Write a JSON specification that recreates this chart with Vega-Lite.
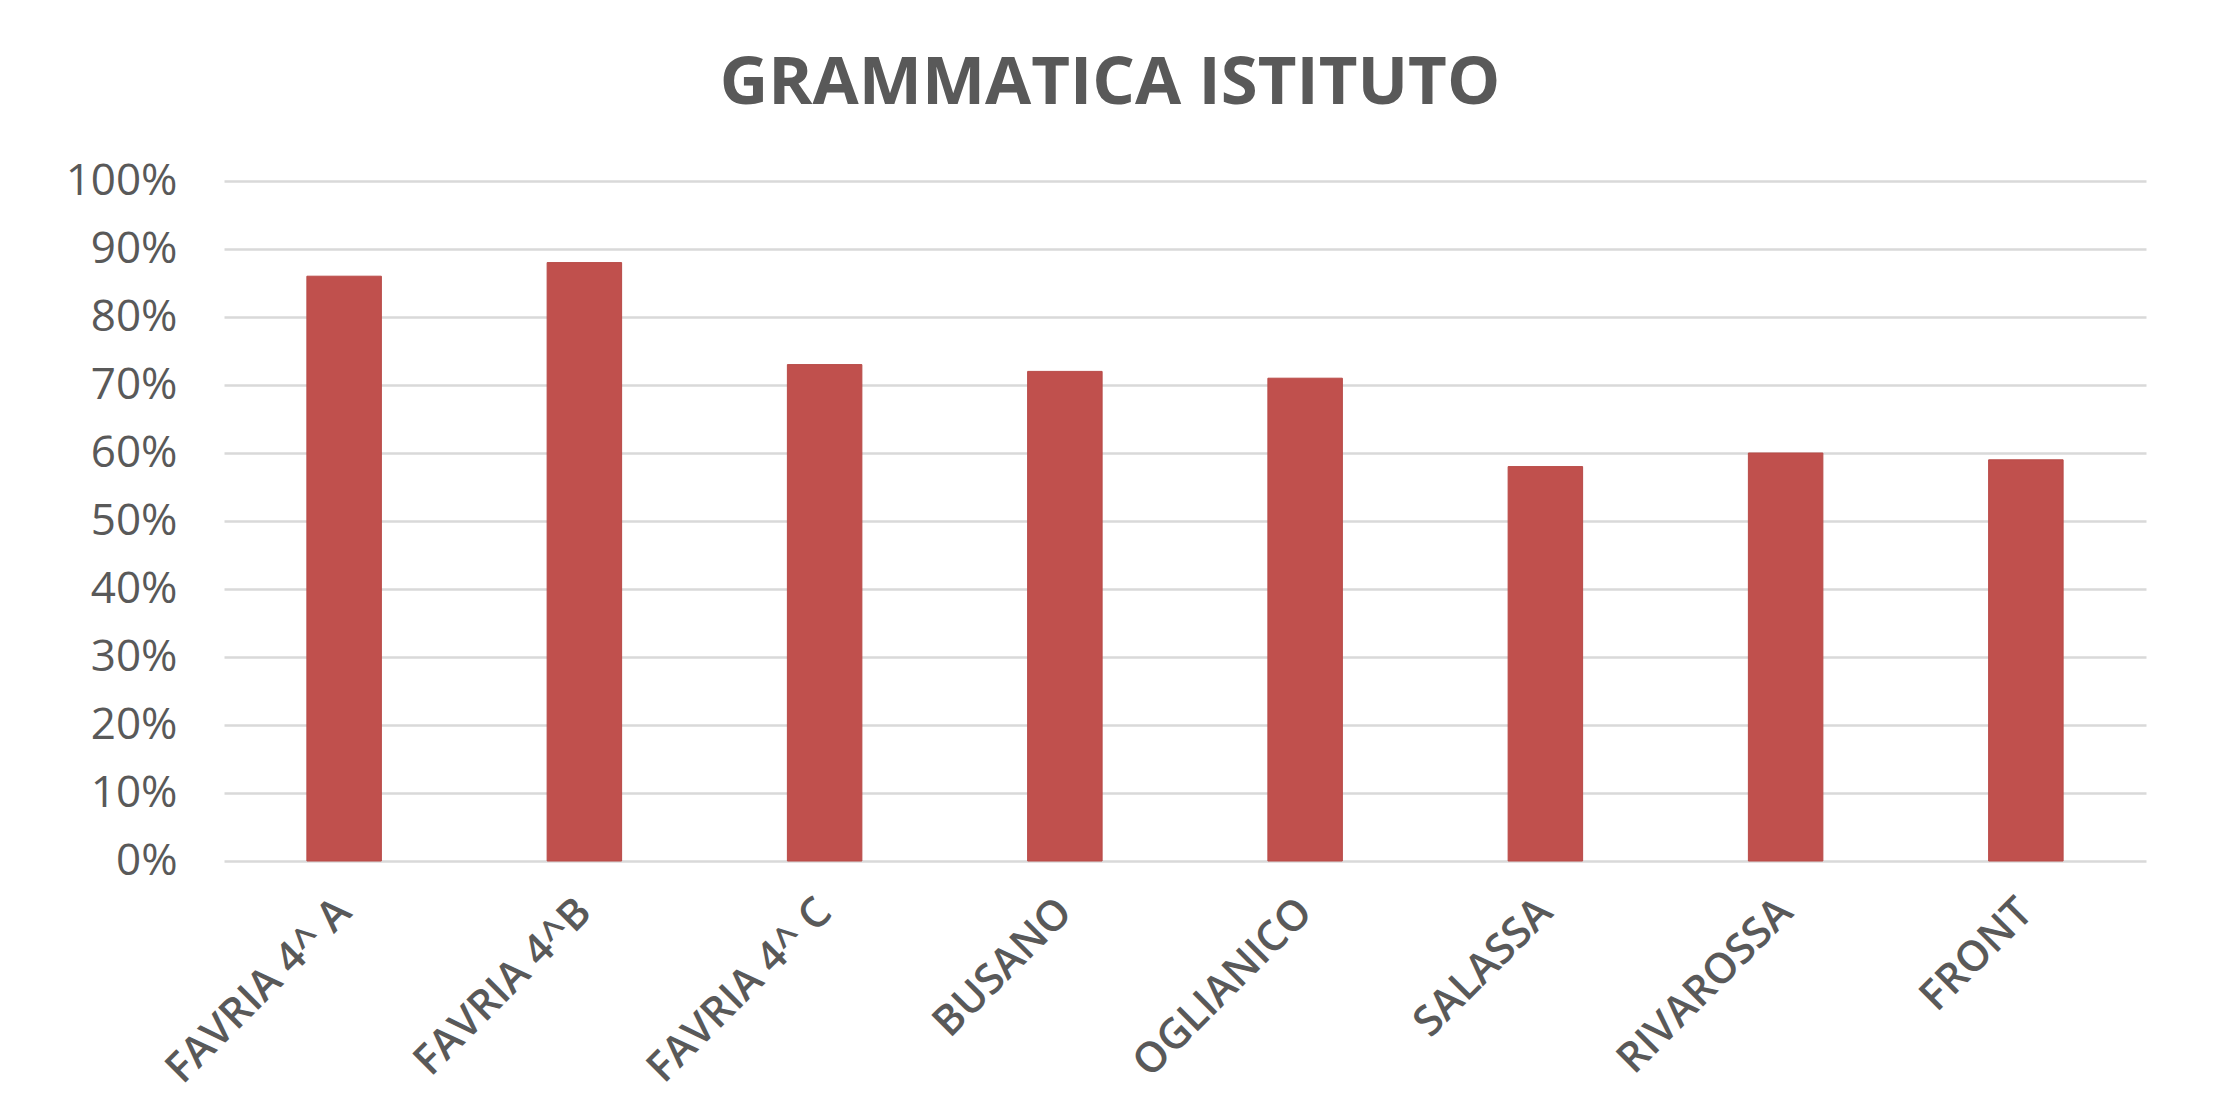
{
  "$schema": "https://vega.github.io/schema/vega-lite/v6.json",
  "autosize": {"type": "none"},
  "padding": {"left": 224, "top": 181, "right": 75, "bottom": 244},
  "width": 1922,
  "height": 680,
  "background": "#ffffff",
  "title": {
    "text": "GRAMMATICA ISTITUTO",
    "font": "Open Sans",
    "fontSize": 67,
    "fontWeight": "bold",
    "color": "#595959",
    "anchor": "middle",
    "baseline": "alphabetic",
    "offset": -12,
    "dx": -75
  },
  "data": {
    "values": [
      {"scuola": "FAVRIA 4^ A", "valore": 0.86},
      {"scuola": "FAVRIA 4^B", "valore": 0.88},
      {"scuola": "FAVRIA 4^ C", "valore": 0.73},
      {"scuola": "BUSANO", "valore": 0.72},
      {"scuola": "OGLIANICO", "valore": 0.71},
      {"scuola": "SALASSA", "valore": 0.58},
      {"scuola": "RIVAROSSA", "valore": 0.60},
      {"scuola": "FRONT", "valore": 0.59}
    ]
  },
  "mark": {"type": "bar", "color": "#c0504d", "stroke": "#b84a47", "strokeWidth": 1},
  "encoding": {
    "x": {
      "field": "scuola",
      "type": "nominal",
      "sort": null,
      "title": null,
      "scale": {"paddingInner": 0.69, "paddingOuter": 0.345},
      "axis": {
        "domain": false,
        "ticks": false,
        "tickSize": 0,
        "labelAngle": -45,
        "labelAlign": "right",
        "labelBaseline": "middle",
        "labelPadding": 44,
        "labelFont": "Open Sans",
        "labelFontSize": 42,
        "labelFontWeight": 600,
        "labelColor": "#595959",
        "labelLimit": 600
      }
    },
    "y": {
      "field": "valore",
      "type": "quantitative",
      "title": null,
      "scale": {"domain": [0, 1], "nice": false},
      "axis": {
        "values": [0, 0.1, 0.2, 0.3, 0.4, 0.5, 0.6, 0.7, 0.8, 0.9, 1],
        "format": ".0%",
        "domain": false,
        "ticks": false,
        "tickSize": 0,
        "labelPadding": 47,
        "labelFont": "Open Sans",
        "labelFontSize": 44,
        "labelColor": "#595959",
        "grid": true,
        "gridColor": "#d9d9d9",
        "gridWidth": 2.5
      }
    }
  },
  "config": {
    "view": {"stroke": null}
  }
}
